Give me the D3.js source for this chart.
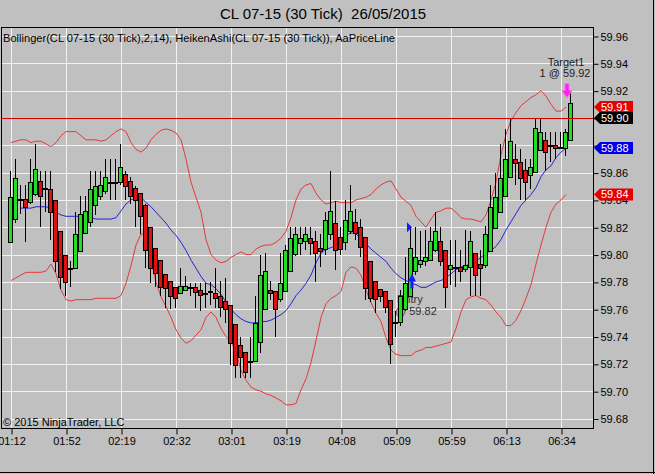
<html>
<head>
<title>CL 07-15 (30 Tick)</title>
<script src="https://d3js.org/d3.v7.min.js"></script>
<style>
  body { margin: 0; background: #c0c0c0; }
  text { font-family: "Liberation Sans", Arial, sans-serif; }
</style>
</head>
<body>
<script>
var timeLabels = ["01:12","01:52","02:19","02:32","03:01","03:19","04:08","05:09","05:59","06:13","06:34"];
var timeTickBars = [0,11,22,33,44,55,66,77,88,99,110];
var priceTicks = [59.68,59.70,59.72,59.74,59.76,59.78,59.80,59.82,59.84,59.86,59.88,59.90,59.92,59.94,59.96];

// heiken ashi candles
var haOpen = [59.809,59.826,59.841,59.841,59.838,59.845,59.854,59.849,59.848,59.840,
  59.817,59.800,59.790,59.790,59.803,59.816,59.824,59.836,59.843,59.847,
  59.852,59.852,59.853,59.859,59.854,59.849,59.845,59.836,59.820,59.805,
  59.796,59.786,59.781,59.776,59.772,59.774,59.776,59.776,59.774,59.772,
  59.772,59.772,59.770,59.766,59.763,59.749,59.734,59.729,59.722,59.722,
  59.736,59.760,59.774,59.773,59.767,59.773,59.788,59.800,59.808,59.810,
  59.812,59.810,59.805,59.804,59.815,59.823,59.813,59.809,59.817,59.824,
  59.820,59.813,59.795,59.781,59.775,59.773,59.767,59.751,59.751,59.760,
  59.770,59.788,59.793,59.795,59.796,59.803,59.810,59.803,59.789,59.791,
  59.791,59.789,59.791,59.801,59.793,59.792,59.803,59.819,59.831,59.843,
  59.857,59.870,59.868,59.862,59.858,59.861,59.877,59.884,59.880,59.880,
  59.879,59.878,59.884];
var haHigh = [59.861,59.870,59.851,59.851,59.870,59.881,59.861,59.861,59.861,59.840,
  59.817,59.800,59.795,59.831,59.843,59.843,59.861,59.861,59.861,59.870,
  59.870,59.870,59.881,59.861,59.857,59.850,59.845,59.837,59.820,59.805,
  59.796,59.786,59.781,59.776,59.790,59.784,59.779,59.779,59.779,59.779,
  59.780,59.790,59.781,59.783,59.763,59.749,59.740,59.729,59.740,59.770,
  59.800,59.801,59.781,59.773,59.801,59.807,59.820,59.820,59.820,59.820,
  59.820,59.817,59.815,59.831,59.861,59.839,59.820,59.840,59.851,59.833,
  59.826,59.813,59.795,59.781,59.775,59.773,59.767,59.759,59.774,59.798,
  59.820,59.820,59.817,59.818,59.820,59.831,59.820,59.803,59.811,59.811,
  59.803,59.818,59.817,59.801,59.803,59.821,59.851,59.860,59.881,59.892,
  59.900,59.881,59.877,59.870,59.870,59.900,59.900,59.890,59.890,59.890,
  59.890,59.892,59.920];
var haLow = [59.809,59.823,59.830,59.809,59.837,59.843,59.820,59.831,59.811,59.787,
  59.775,59.770,59.776,59.790,59.802,59.815,59.820,59.829,59.840,59.844,
  59.840,59.840,59.851,59.840,59.837,59.820,59.815,59.790,59.779,59.776,
  59.770,59.761,59.760,59.761,59.771,59.774,59.770,59.761,59.759,59.761,
  59.763,59.761,59.754,59.750,59.719,59.710,59.710,59.710,59.710,59.722,
  59.728,59.760,59.767,59.740,59.765,59.773,59.787,59.799,59.800,59.803,
  59.800,59.780,59.791,59.800,59.811,59.789,59.800,59.803,59.815,59.811,
  59.798,59.767,59.765,59.757,59.765,59.757,59.720,59.740,59.748,59.759,
  59.770,59.785,59.790,59.792,59.795,59.802,59.792,59.761,59.778,59.776,
  59.780,59.787,59.770,59.770,59.770,59.790,59.803,59.819,59.831,59.843,
  59.857,59.851,59.840,59.840,59.848,59.861,59.877,59.861,59.868,59.870,
  59.877,59.872,59.884];
var haClose = [59.842,59.856,59.840,59.835,59.853,59.863,59.843,59.848,59.831,59.795,
  59.783,59.780,59.790,59.815,59.830,59.832,59.848,59.850,59.851,59.857,
  59.853,59.853,59.864,59.850,59.843,59.840,59.828,59.803,59.790,59.787,
  59.776,59.776,59.770,59.768,59.777,59.777,59.776,59.772,59.770,59.771,
  59.773,59.768,59.762,59.760,59.735,59.719,59.725,59.714,59.722,59.750,
  59.785,59.788,59.772,59.760,59.779,59.803,59.812,59.815,59.812,59.815,
  59.808,59.801,59.803,59.825,59.832,59.803,59.804,59.825,59.832,59.816,
  59.805,59.776,59.768,59.768,59.770,59.761,59.735,59.750,59.770,59.779,
  59.805,59.798,59.796,59.798,59.810,59.817,59.795,59.776,59.792,59.791,
  59.788,59.792,59.810,59.785,59.790,59.815,59.835,59.842,59.856,59.870,
  59.883,59.867,59.856,59.853,59.864,59.893,59.890,59.875,59.880,59.878,
  59.878,59.890,59.911];

// bollinger bands (2, 14)
var bbUpper = [59.882,59.883,59.884,59.884,59.882,59.883,59.883,59.881,59.879,59.882,
  59.887,59.890,59.890,59.890,59.887,59.884,59.884,59.884,59.883,59.884,
  59.887,59.890,59.892,59.890,59.882,59.877,59.875,59.878,59.884,59.888,
  59.891,59.892,59.891,59.889,59.884,59.870,59.853,59.842,59.831,59.811,
  59.800,59.796,59.794,59.795,59.798,59.800,59.802,59.800,59.800,59.804,
  59.806,59.807,59.807,59.809,59.812,59.817,59.827,59.840,59.848,59.851,
  59.852,59.845,59.840,59.837,59.838,59.839,59.838,59.838,59.838,59.840,
  59.841,59.842,59.844,59.848,59.851,59.853,59.854,59.848,59.842,59.839,
  59.836,59.828,59.824,59.820,59.826,59.831,59.832,59.834,59.834,59.831,
  59.827,59.826,59.826,59.825,59.824,59.829,59.840,59.853,59.873,59.888,
  59.898,59.904,59.909,59.912,59.915,59.917,59.920,59.916,59.910,59.905,
  59.905,59.908,null];
var bbMid = [null,null,59.834,59.834,59.834,59.835,59.835,59.835,59.834,59.831,
  59.829,59.828,59.828,59.828,59.828,59.827,59.827,59.826,59.826,59.826,
  59.826,59.827,59.832,59.837,59.840,59.842,59.842,59.838,59.835,59.831,
  59.827,59.823,59.818,59.814,59.809,59.803,59.796,59.790,59.784,59.779,
  59.778,59.775,59.771,59.765,59.760,59.756,59.753,59.751,59.750,59.750,
  59.751,59.751,59.752,59.754,59.756,59.759,59.764,59.770,59.774,59.779,
  59.785,59.794,59.801,59.804,59.805,59.807,59.810,59.814,59.816,59.815,
  59.812,59.808,59.804,59.801,59.798,59.795,59.790,59.786,59.783,59.781,
  59.779,59.778,59.776,59.776,59.778,59.780,59.781,59.783,59.786,59.789,
  59.791,59.792,59.793,59.795,59.798,59.801,59.803,59.806,59.811,59.818,
  59.824,59.830,59.836,59.840,59.844,59.849,59.857,59.862,59.865,59.871,
  59.875,59.878,null];
var bbLower = [59.781,59.783,59.785,59.787,59.787,59.787,59.787,59.788,59.793,59.786,
  59.774,59.767,59.766,59.767,59.767,59.767,59.767,59.768,59.768,59.768,
  59.768,59.768,59.770,59.779,59.792,59.807,59.815,59.815,59.796,59.780,
  59.769,59.762,59.754,59.745,59.739,59.735,59.737,59.741,59.745,59.754,
  59.758,59.754,59.746,59.740,59.736,59.729,59.715,59.708,59.703,59.701,
  59.700,59.698,59.697,59.695,59.693,59.690,59.690,59.691,59.701,59.709,
  59.721,59.737,59.754,59.764,59.768,59.770,59.773,59.787,59.791,59.790,
  59.785,59.774,59.765,59.757,59.751,59.739,59.730,59.727,59.726,59.726,
  59.726,59.729,59.730,59.732,59.732,59.733,59.734,59.735,59.736,59.746,
  59.758,59.767,59.769,59.770,59.768,59.767,59.763,59.758,59.754,59.748,
  59.748,59.752,59.759,59.768,59.778,59.793,59.807,59.820,59.831,59.837,
  59.840,59.844,null];

var lastPrice = 59.90;
var entryBar = 80, entryPrice = 59.82;
var targetBar = 111, targetPrice = 59.92;

var W = 655, H = 474;
var plot = {left: 1, top: 27, right: 593, bottom: 428};

var svg = d3.select("body").append("svg")
  .attr("width", W).attr("height", H)
  .style("display", "block");

var x = d3.scaleLinear().domain([0, haOpen.length - 1]).range([11, 571]);
var y = d3.scaleLinear().domain([59.68, 59.96]).range([418.5, 36]);
var fmt = d3.format(".2f");
var px = function(v){ return Math.round(v) + 0.5; };

svg.append("rect").attr("width", W).attr("height", H).attr("fill", "#c0c0c0");

svg.append("defs").append("clipPath").attr("id", "clip")
  .append("rect")
  .attr("x", plot.left).attr("y", plot.top)
  .attr("width", plot.right - plot.left).attr("height", plot.bottom - plot.top);

// title
svg.append("text")
  .attr("x", 323).attr("y", 19)
  .attr("text-anchor", "middle")
  .attr("font-size", "15px")
  .style("white-space", "pre")
  .text("CL 07-15 (30 Tick)  26/05/2015");

var inner = svg.append("g").attr("clip-path", "url(#clip)");

// grid
inner.selectAll("line.hgrid").data(priceTicks).enter()
  .append("line")
  .attr("x1", plot.left).attr("x2", plot.right)
  .attr("y1", function(d){ return px(y(d)); })
  .attr("y2", function(d){ return px(y(d)); })
  .attr("stroke", "#f2f2f2");
inner.selectAll("line.vgrid").data(timeTickBars).enter()
  .append("line")
  .attr("x1", function(d){ return px(x(d)); })
  .attr("x2", function(d){ return px(x(d)); })
  .attr("y1", plot.top).attr("y2", plot.bottom)
  .attr("stroke", "#f2f2f2");

// bands
var bandLine = d3.line()
  .defined(function(d){ return d !== null; })
  .x(function(d, i){ return x(i); })
  .y(function(d){ return y(d); });

inner.append("path").datum(bbUpper).attr("d", bandLine)
  .attr("fill", "none").attr("stroke", "#e23a3a").attr("stroke-width", 1);
inner.append("path").datum(bbLower).attr("d", bandLine)
  .attr("fill", "none").attr("stroke", "#e23a3a").attr("stroke-width", 1);
inner.append("path").datum(bbMid).attr("d", bandLine)
  .attr("fill", "none").attr("stroke", "#2424d8").attr("stroke-width", 1);

// entry text (sits behind the candles)
var entryTextY = y(haLow[entryBar]);
inner.append("text")
  .attr("x", x(entryBar) - 14).attr("y", entryTextY + 7)
  .attr("font-size", "11px").attr("fill", "#303030")
  .text("Entry");
inner.append("text")
  .attr("x", x(entryBar) - 16).attr("y", entryTextY + 19)
  .attr("font-size", "11px").attr("fill", "#303030")
  .text("@ " + fmt(entryPrice));

// candles
var idx = d3.range(haOpen.length);
var candles = inner.append("g").attr("shape-rendering", "crispEdges");

candles.selectAll("line.wick").data(idx).enter()
  .append("line")
  .attr("x1", function(i){ return px(x(i)) - 1; })
  .attr("x2", function(i){ return px(x(i)) - 1; })
  .attr("y1", function(i){ return y(haHigh[i]); })
  .attr("y2", function(i){ return y(haLow[i]); })
  .attr("stroke", "#000");

candles.selectAll("rect.body").data(idx).enter()
  .append("rect")
  .attr("x", function(i){ return px(x(i)) - 3; })
  .attr("width", 4)
  .attr("y", function(i){ return Math.round(y(Math.max(haOpen[i], haClose[i]))) + 0.5; })
  .attr("height", function(i){ return Math.max(1, Math.round(Math.abs(y(haOpen[i]) - y(haClose[i])))); })
  .attr("fill", function(i){ return haClose[i] >= haOpen[i] ? "#22dd22" : "#dd1111"; })
  .attr("stroke", "#000");

// price line
inner.append("line")
  .attr("x1", plot.left).attr("x2", plot.right)
  .attr("y1", px(y(lastPrice))).attr("y2", px(y(lastPrice)))
  .attr("stroke", "#d40000");

// execution markers
var ex = x(entryBar), ey = y(entryPrice);
inner.append("path")
  .attr("d", "M" + (ex - 4) + "," + (ey - 5) + "L" + (ex + 1) + "," + ey + "L" + (ex - 4) + "," + (ey + 5) + "Z")
  .attr("fill", "#1a1aff");

var ab = y(haLow[entryBar]) - 7;
inner.append("path")
  .attr("d", "M" + (ex + 1) + "," + (ab - 15) + "L" + (ex + 5) + "," + (ab - 7) + "L" + (ex + 2.5) + "," + (ab - 7) +
    "L" + (ex + 2.5) + "," + ab + "L" + (ex - 0.5) + "," + ab + "L" + (ex - 0.5) + "," + (ab - 7) +
    "L" + (ex - 3) + "," + (ab - 7) + "Z")
  .attr("fill", "#1a1aff");

var tx = x(targetBar), ty = y(targetPrice);
inner.append("path")
  .attr("d", "M" + (tx - 1) + "," + (ty - 7) + "L" + (tx + 3) + "," + (ty - 7) + "L" + (tx + 3) + "," + ty +
    "L" + (tx + 6) + "," + ty + "L" + (tx + 1) + "," + (ty + 7) + "L" + (tx - 4) + "," + ty +
    "L" + (tx - 1) + "," + ty + "Z")
  .attr("fill", "#ff22ee").attr("stroke", "#ff66f0").attr("stroke-width", 1);

inner.append("text")
  .attr("x", tx).attr("y", ty - 25)
  .attr("text-anchor", "middle").attr("font-size", "11px").attr("fill", "#202020")
  .text("Target1");
inner.append("text")
  .attr("x", tx - 1).attr("y", ty - 14)
  .attr("text-anchor", "middle").attr("font-size", "11px").attr("fill", "#202020")
  .text("1 @ " + fmt(targetPrice));

// legend + copyright
inner.append("text")
  .attr("x", 3).attr("y", 42)
  .attr("font-size", "11px")
  .attr("textLength", 392).attr("lengthAdjust", "spacingAndGlyphs")
  .text("Bollinger(CL 07-15 (30 Tick),2,14), HeikenAshi(CL 07-15 (30 Tick)), AaPriceLine");
inner.append("text")
  .attr("x", 3).attr("y", 426)
  .attr("font-size", "11px")
  .text("\u00a9 2015 NinjaTrader, LLC");

// frame
svg.append("rect")
  .attr("x", plot.left + 0.5).attr("y", plot.top + 0.5)
  .attr("width", plot.right - plot.left).attr("height", plot.bottom - plot.top)
  .attr("fill", "none").attr("stroke", "#000");
svg.append("line").attr("x1", W - 1.5).attr("x2", W - 1.5).attr("y1", 0).attr("y2", H)
  .attr("stroke", "#000");
svg.append("line").attr("x1", 0).attr("x2", W).attr("y1", H - 1.5).attr("y2", H - 1.5)
  .attr("stroke", "#000");

// axes
var yAxis = svg.append("g")
  .attr("transform", "translate(" + (plot.right + 0.5) + ",0.5)")
  .call(d3.axisRight(y).tickValues(priceTicks).tickFormat(fmt).tickSize(5).tickPadding(2));
yAxis.select(".domain").remove();
yAxis.selectAll("text").attr("font-size", "11px").attr("font-family", "Liberation Sans, Arial, sans-serif");

var xAxis = svg.append("g")
  .attr("transform", "translate(0.5," + (plot.bottom + 0.5) + ")")
  .call(d3.axisBottom(x).tickValues(timeTickBars)
    .tickFormat(function(d, i){ return timeLabels[i]; })
    .tickSize(6).tickPadding(3));
xAxis.select(".domain").remove();
xAxis.selectAll("text").attr("font-size", "11px").attr("font-family", "Liberation Sans, Arial, sans-serif");

// value flags on the price axis
var flags = [
  {v: bbUpper[111], color: "#e60000"},
  {v: bbMid[111], color: "#0000e6"},
  {v: bbLower[111], color: "#e60000"},
  {v: lastPrice, color: "#000000"}
];
var flag = svg.selectAll("g.flag").data(flags).enter()
  .append("g")
  .attr("transform", function(d){ return "translate(" + (plot.right + 1) + "," + y(d.v) + ")"; });
flag.append("path")
  .attr("d", "M0,0L6,-6L39,-6L39,6L6,6Z")
  .attr("fill", function(d){ return d.color; });
flag.append("text")
  .attr("x", 7).attr("y", 4)
  .attr("font-size", "11px").attr("fill", "#fff")
  .text(function(d){ return fmt(d.v); });
</script>
</body>
</html>
